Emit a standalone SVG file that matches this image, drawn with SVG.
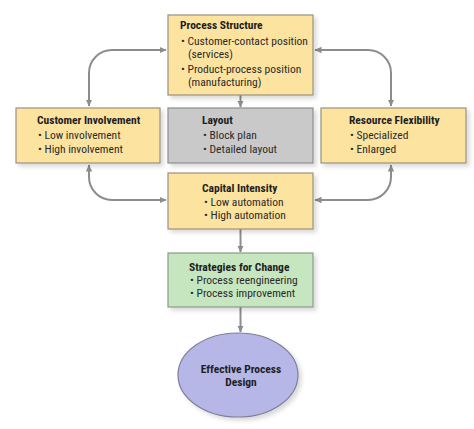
<svg xmlns="http://www.w3.org/2000/svg" width="474" height="429" viewBox="0 0 474 429">
<style>
text{font-family:"Liberation Sans Narrow","Roboto Condensed","Liberation Sans",Arial,sans-serif;font-size:11.5px;fill:#2a2a2a}
.t{font-weight:bold;fill:#1e1e1e}
.y{fill:#fce3a0;stroke:#9a927f;stroke-width:1.2}
.g{fill:#c9c9c9;stroke:#8e8e8e;stroke-width:1.2}
.gr{fill:#c6e6bf;stroke:#8b9c87;stroke-width:1.2}
.el{fill:#b6b7e6;stroke:#7d7d9c;stroke-width:1.2}
.c{fill:none;stroke:#8c8c8c;stroke-width:2}
</style>
<defs>
<filter id="sh" x="-10%" y="-10%" width="130%" height="140%">
<feDropShadow dx="3" dy="3" stdDeviation="2" flood-color="#000" flood-opacity="0.15"/>
</filter>
<marker id="a" markerWidth="8" markerHeight="8" refX="6.5" refY="4" orient="auto-start-reverse" markerUnits="userSpaceOnUse">
<path d="M0,0.8 L7,4 L0,7.2 Z" fill="#8c8c8c"/>
</marker>
</defs>
<rect width="474" height="429" fill="#fff"/>
<g id="connectors">
<path class="c" d="M166,50 H112 A23,23 0 0 0 89,73 V106" marker-start="url(#a)" marker-end="url(#a)"/>
<path class="c" d="M89,165 V177 A23,23 0 0 0 112,200 H166" marker-start="url(#a)" marker-end="url(#a)"/>
<path class="c" d="M315,50 H368 A23,23 0 0 1 391,73 V106" marker-start="url(#a)" marker-end="url(#a)"/>
<path class="c" d="M391,165 V177 A23,23 0 0 1 368,200 H315" marker-start="url(#a)" marker-end="url(#a)"/>
<path class="c" d="M240.5,95 V107" marker-end="url(#a)"/>
<path class="c" d="M240.5,229 V252" marker-end="url(#a)"/>
<path class="c" d="M240.5,307 V332" marker-end="url(#a)"/>
</g>
<g id="process-structure">
<rect class="y" x="168" y="15" width="145" height="80" filter="url(#sh)"/>
<text class="t" x="180" y="29">Process Structure</text>
<text x="181" y="45">• Customer-contact position</text>
<text x="188" y="58">(services)</text>
<text x="181" y="73">• Product-process position</text>
<text x="188" y="86">(manufacturing)</text>
</g>
<g id="customer-involvement">
<rect class="y" x="16" y="108" width="144" height="55" filter="url(#sh)"/>
<text class="t" x="37" y="124">Customer Involvement</text>
<text x="38" y="139">• Low involvement</text>
<text x="38" y="153">• High involvement</text>
</g>
<g id="layout">
<rect class="g" x="168" y="108" width="145" height="55" filter="url(#sh)"/>
<text class="t" x="202" y="124">Layout</text>
<text x="203" y="139">• Block plan</text>
<text x="203" y="153">• Detailed layout</text>
</g>
<g id="resource-flexibility">
<rect class="y" x="321" y="108" width="145" height="55" filter="url(#sh)"/>
<text class="t" x="349" y="124">Resource Flexibility</text>
<text x="350" y="139">• Specialized</text>
<text x="350" y="153">• Enlarged</text>
</g>
<g id="capital-intensity">
<rect class="y" x="168" y="173" width="145" height="56" filter="url(#sh)"/>
<text class="t" x="202" y="192">Capital Intensity</text>
<text x="204" y="206">• Low automation</text>
<text x="204" y="219">• High automation</text>
</g>
<g id="strategies-for-change">
<rect class="gr" x="168" y="253" width="145" height="54" filter="url(#sh)"/>
<text class="t" x="189" y="271">Strategies for Change</text>
<text x="190" y="284">• Process reengineering</text>
<text x="190" y="297">• Process improvement</text>
</g>
<g id="effective-process-design">
<ellipse class="el" cx="238" cy="375" rx="60" ry="42" filter="url(#sh)"/>
<text class="t" x="241" y="373" text-anchor="middle">Effective Process</text>
<text class="t" x="241" y="386" text-anchor="middle">Design</text>
</g>
</svg>
